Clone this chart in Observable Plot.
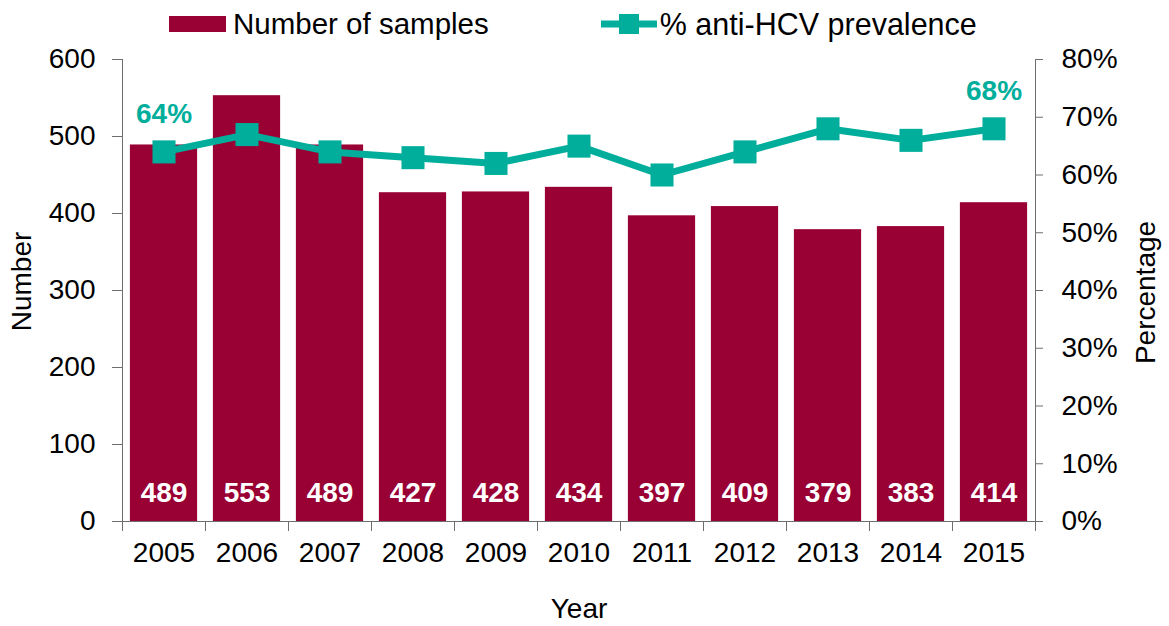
<!DOCTYPE html>
<html>
<head>
<meta charset="utf-8">
<script src="https://cdn.jsdelivr.net/npm/d3@7"></script>
<script src="https://cdn.jsdelivr.net/npm/@observablehq/plot@0.6"></script>
<style>
  body { margin: 0; background: #fff; font-family: "Liberation Sans", Arial, sans-serif; }
  #legend { height: 48px; display: flex; justify-content: flex-start; align-items: center; gap: 112px; font-size: 29.5px; color: #000; width: 1169px; box-sizing: border-box; padding-left: 169px; }
  .item { display: flex; align-items: center; }
  .swatch { width: 57px; height: 16px; background: #990033; margin-right: 7px; }
</style>
</head>
<body>
<div id="legend"></div>
<div id="chart"></div>
<script>
const years = ["2005","2006","2007","2008","2009","2010","2011","2012","2013","2014","2015"];
const samples = [489, 553, 489, 427, 428, 434, 397, 409, 379, 383, 414];
const prevalence = [64, 67, 64, 63, 62, 65, 60, 64, 68, 66, 68];
const labelledYears = ["2005", "2015"];
const leftTicks = [0, 100, 200, 300, 400, 500, 600];
const rightTicks = [0, 10, 20, 30, 40, 50, 60, 70, 80];
const seriesNames = ["Number of samples", "% anti-HCV prevalence"];

const barColor = "#990033";
const lineColor = "#00AE9B";
const axisColor = "#6e6e6e";
const pctToY = 600 / 80;

const data = years.map((year, i) => ({year, samples: samples[i], pct: prevalence[i]}));

// legend
const legend = document.getElementById("legend");
legend.innerHTML = `
  <div class="item"><div class="swatch"></div><span>${seriesNames[0]}</span></div>
  <div class="item"><svg width="56" height="24" style="margin-right:3px"><line x1="0" y1="12" x2="56" y2="12" stroke="${lineColor}" stroke-width="7"/><rect x="18" y="2" width="20" height="20" fill="${lineColor}"/></svg><span style="font-size:30.5px">${seriesNames[1]}</span></div>`;

const W = 1169, H = 578;
const mL = 122, mR = 134, mT = 11, mB = 105;
const step = (W - mL - mR) / years.length;

const chart = Plot.plot({
  width: W,
  height: H,
  marginLeft: mL,
  marginRight: mR,
  marginTop: mT,
  marginBottom: mB,
  style: {fontFamily: "'Liberation Sans', Arial, sans-serif", color: "#000", background: "#fff", overflow: "visible"},
  x: {type: "band", domain: years, paddingInner: 0.19, paddingOuter: 0.095, round: false},
  y: {domain: [0, 600]},
  marks: [
    Plot.barY(data, {x: "year", y: "samples", fill: barColor}),
    Plot.frame({anchor: "left", stroke: axisColor}),
    Plot.frame({anchor: "right", stroke: axisColor}),
    Plot.ruleY([0], {stroke: axisColor}),
    Plot.ruleX(years, {x: d => d, dx: -step / 2, y1: 0, y2: -13, stroke: axisColor}),
    Plot.ruleX(years.slice(-1), {x: d => d, dx: step / 2, y1: 0, y2: -13, stroke: axisColor}),
    Plot.axisY({anchor: "left", ticks: leftTicks, tickSize: 10, tickPadding: 17, fontSize: 28, label: null, stroke: axisColor, color: "#000"}),
    Plot.axisY({anchor: "right", ticks: rightTicks.map(p => p * pctToY), tickFormat: d => Math.round(d / pctToY) + "%", tickSize: 7, tickPadding: 19, fontSize: 28, label: null, stroke: axisColor}),
    Plot.axisX({tickSize: 0, tickPadding: 21, fontSize: 28, label: null}),
    Plot.line(data, {x: "year", y: d => d.pct * pctToY, stroke: lineColor, strokeWidth: 7}),
    Plot.dot(data, {x: "year", y: d => d.pct * pctToY, symbol: "square", r: 13, fill: lineColor, stroke: null}),
    Plot.text(data, {x: "year", frameAnchor: "bottom", lineAnchor: "middle", dy: -28, text: d => String(d.samples), fill: "#fff", fontWeight: "bold", fontSize: 28}),
    Plot.text(data.filter(d => labelledYears.includes(d.year)), {x: "year", y: d => d.pct * pctToY, dy: -38, text: d => d.pct + "%", fill: lineColor, fontWeight: "bold", fontSize: 28}),
    Plot.text(["Number"], {frameAnchor: "left", textAnchor: "middle", lineAnchor: "middle", dx: -100, dy: -9, rotate: -90, text: d => d, fontSize: 28, fill: "#000"}),
    Plot.text(["Percentage"], {frameAnchor: "right", textAnchor: "middle", lineAnchor: "middle", dx: 111, dy: 2, rotate: -90, text: d => d, fontSize: 28, fill: "#000"}),
    Plot.text(["Year"], {frameAnchor: "bottom", lineAnchor: "middle", dy: 88, text: d => d, fontSize: 28, fill: "#000"})
  ]
});
document.getElementById("chart").appendChild(chart);
</script>
</body>
</html>
